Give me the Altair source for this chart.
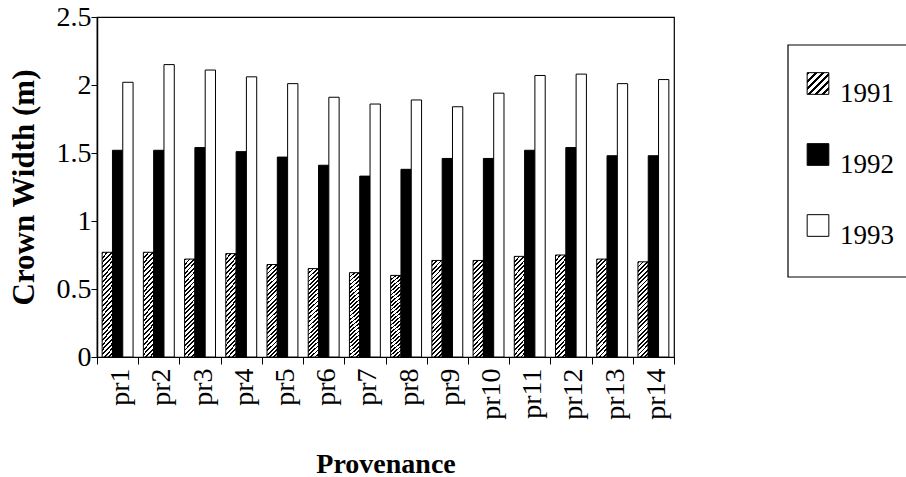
import altair as alt
import pandas as pd

provenances = [f"pr{i}" for i in range(1, 15)]
years = ["1991", "1992", "1993"]
w1991 = [0.77, 0.77, 0.72, 0.76, 0.68, 0.65, 0.62, 0.60, 0.71, 0.71, 0.74, 0.75, 0.72, 0.70]
w1992 = [1.52, 1.52, 1.54, 1.51, 1.47, 1.41, 1.33, 1.38, 1.46, 1.46, 1.52, 1.54, 1.48, 1.48]
w1993 = [2.02, 2.15, 2.11, 2.06, 2.01, 1.91, 1.86, 1.89, 1.84, 1.94, 2.07, 2.08, 2.01, 2.04]
y_ticks = [0, 0.5, 1, 1.5, 2, 2.5]

rows = []
for yr, vals in zip(years, [w1991, w1992, w1993]):
    for p, v in zip(provenances, vals):
        rows.append({"provenance": p, "year": yr, "width": v})
df = pd.DataFrame(rows)
legend_df = pd.DataFrame({"year": years})

FONT = "Liberation Serif"


def hatch(x2, y2, n):
    stops = []
    for i in range(n):
        a = i / n
        b = (i + 0.42) / n
        c = (i + 1) / n
        stops += [
            alt.GradientStop(color="black", offset=a),
            alt.GradientStop(color="black", offset=b),
            alt.GradientStop(color="white", offset=b),
            alt.GradientStop(color="white", offset=c),
        ]
    return alt.Gradient(gradient="linear", x1=0, y1=0, x2=x2, y2=y2, stops=stops)


bar_hatch = hatch(0.119, 1.095, 24)
sym_hatch = hatch(1, 1, 6)

x_enc = alt.X(
    "provenance:N",
    sort=provenances,
    scale=alt.Scale(paddingInner=0, paddingOuter=0),
    axis=alt.Axis(
        title="Provenance",
        labelAngle=270,
        labelAlign="right",
        labelBaseline="middle",
        labelFont=FONT,
        labelFontSize=28,
        labelColor="black",
        labelPadding=4,
        labelOffset=3,
        tickBand="extent",
        tickSize=7,
        tickColor="black",
        domainColor="black",
        domainWidth=1.2,
        titleFont=FONT,
        titleFontSize=28,
        titleFontWeight="bold",
        titleColor="black",
        titleY=115,
        titleBaseline="alphabetic",
    ),
)
y_enc = alt.Y(
    "width:Q",
    scale=alt.Scale(domain=[0, 2.5], nice=False),
    axis=alt.Axis(
        title="Crown Width (m)",
        values=y_ticks,
        format=".1~f",
        grid=False,
        labelFont=FONT,
        labelFontSize=28,
        labelColor="black",
        labelPadding=0,
        tickSize=6,
        tickColor="black",
        domainColor="black",
        domainWidth=1.5,
        titleFont=FONT,
        titleFontSize=31,
        titleFontWeight="bold",
        titleColor="black",
        titleX=-73,
        titleBaseline="middle",
    ),
)
xo_enc = alt.XOffset(
    "year:N", scale=alt.Scale(domain=years, paddingInner=0, paddingOuter=0.5)
)

base = alt.Chart(df).encode(x=x_enc, y=y_enc, xOffset=xo_enc)
b91 = base.mark_bar(fill=bar_hatch, stroke="black", strokeWidth=1).transform_filter(
    alt.datum.year == "1991"
)
b92 = base.mark_bar(fill="black", stroke="black", strokeWidth=1).transform_filter(
    alt.datum.year == "1992"
)
b93 = base.mark_bar(fill="white", stroke="black", strokeWidth=1).transform_filter(
    alt.datum.year == "1993"
)
bars = alt.layer(b91, b92, b93)

frame = alt.Chart(pd.DataFrame({"k": [0]})).mark_rect(
    fill="white", stroke="black", strokeWidth=1.2
).encode(x=alt.value(691), x2=alt.value(815), y=alt.value(28), y2=alt.value(260))

ly = alt.Y("year:N", scale=alt.Scale(domain=years, range=[66.5, 208.5], padding=0), axis=None)
lbase = alt.Chart(legend_df).encode(y=ly)
sym91 = lbase.mark_point(
    shape="square", size=470, filled=True, fill=sym_hatch, stroke="black",
    strokeWidth=1, opacity=1
).encode(x=alt.value(721)).transform_filter(alt.datum.year == "1991")
sym92 = lbase.mark_point(
    shape="square", size=470, filled=True, fill="black", stroke="black",
    strokeWidth=1, opacity=1
).encode(x=alt.value(721)).transform_filter(alt.datum.year == "1992")
sym93 = lbase.mark_point(
    shape="square", size=470, filled=True, fill="white", stroke="black",
    strokeWidth=1, opacity=1
).encode(x=alt.value(721)).transform_filter(alt.datum.year == "1993")
ltext = lbase.mark_text(
    align="left", baseline="middle", font=FONT, fontSize=27, color="black", dy=10
).encode(x=alt.value(743), text="year:N")
legend = alt.layer(sym91, sym92, sym93, ltext)

chart = (
    alt.layer(bars, frame, legend)
    .resolve_scale(y="independent")
    .properties(
        width=577,
        height=340,
        autosize=alt.AutoSizeParams(type="none"),
        padding={"left": 97, "top": 17, "right": 232, "bottom": 120},
        background="white",
    )
    .configure_view(stroke="black", strokeWidth=1.2)
)

chart.save("out.html", embed_options={"renderer": "svg", "actions": False})
